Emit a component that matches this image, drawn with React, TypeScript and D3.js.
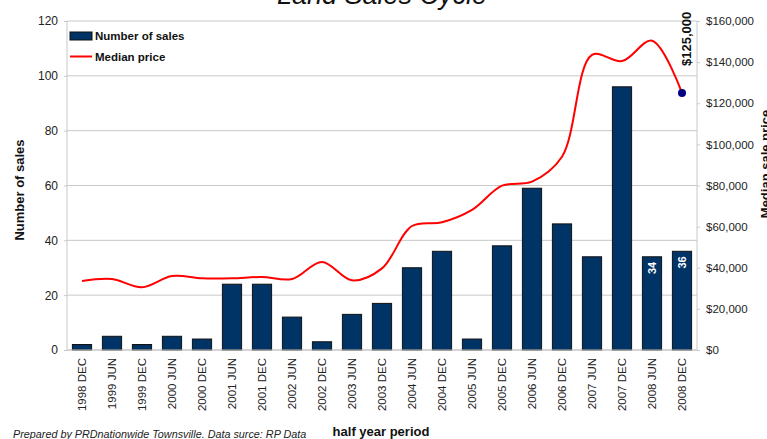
import React, { useEffect, useRef } from "react";
import * as d3 from "d3";

// half year periods on the x axis
const periods = [
  "1998 DEC", "1999 JUN", "1999 DEC", "2000 JUN", "2000 DEC", "2001 JUN", "2001 DEC",
  "2002 JUN", "2002 DEC", "2003 JUN", "2003 DEC", "2004 JUN", "2004 DEC", "2005 JUN",
  "2005 DEC", "2006 JUN", "2006 DEC", "2007 JUN", "2007 DEC", "2008 JUN", "2008 DEC",
];

// number of land sales per period
const sales = [2, 5, 2, 5, 4, 24, 24, 12, 3, 13, 17, 30, 36, 4, 38, 59, 46, 34, 96, 34, 36];

// median sale price per period
const medianPrice = [
  33600, 34500, 30500, 36000, 34900, 34900, 35500, 34500, 42800, 33900, 39700,
  60300, 62100, 68100, 79900, 81900, 94000, 143500, 140500, 150400, 125000,
];

const salesTicks = [0, 20, 40, 60, 80, 100, 120];
const priceTicks = [0, 20000, 40000, 60000, 80000, 100000, 120000, 140000, 160000];

// only the last two bars carry a value label
const labelledBars = ["2008 JUN", "2008 DEC"];

const FONT = "'Liberation Sans', Arial, sans-serif";

const App = () => {
  const ref = useRef<SVGSVGElement>(null);

  useEffect(() => {
    const width = 767;
    const height = 439;
    const plot = { left: 67, right: 697, top: 21, bottom: 350 };

    const svg = d3.select(ref.current).attr("width", width).attr("height", height);
    svg.selectAll("*").remove();

    const x = d3.scaleBand<string>()
      .domain(periods)
      .range([plot.left, plot.right])
      .paddingInner(0.36)
      .paddingOuter(0.18);
    const yLeft = d3.scaleLinear().domain([0, 120]).range([plot.bottom, plot.top]);
    const yRight = d3.scaleLinear().domain([0, 160000]).range([plot.bottom, plot.top]);

    const g = svg.append("g").style("font-family", FONT);

    // gridlines from the left axis
    g.append("g")
      .selectAll("line")
      .data(salesTicks)
      .join("line")
      .attr("x1", plot.left)
      .attr("x2", plot.right)
      .attr("y1", (d) => yLeft(d))
      .attr("y2", (d) => yLeft(d))
      .attr("stroke", "#c8c8c8")
      .attr("stroke-width", 1);

    // plot frame sides
    g.append("line")
      .attr("x1", plot.left).attr("x2", plot.left)
      .attr("y1", plot.top).attr("y2", plot.bottom)
      .attr("stroke", "#c8c8c8");
    g.append("line")
      .attr("x1", plot.right).attr("x2", plot.right)
      .attr("y1", plot.top).attr("y2", plot.bottom)
      .attr("stroke", "#c8c8c8");

    // left axis
    const leftAxis = g.append("g")
      .attr("transform", `translate(${plot.left},0)`)
      .call(d3.axisLeft(yLeft).tickValues(salesTicks).tickSize(3).tickPadding(6));
    leftAxis.select(".domain").remove();
    leftAxis.selectAll("line").attr("stroke", "#c8c8c8");
    leftAxis.selectAll("text")
      .attr("fill", "#222")
      .style("font-size", "12px")
      .style("font-family", FONT);

    // right axis
    const rightAxis = g.append("g")
      .attr("transform", `translate(${plot.right},0)`)
      .call(
        d3.axisRight(yRight)
          .tickValues(priceTicks)
          .tickSize(3)
          .tickPadding(6)
          .tickFormat((d) => "$" + d3.format(",")(d as number))
      );
    rightAxis.select(".domain").remove();
    rightAxis.selectAll("line").attr("stroke", "#c8c8c8");
    rightAxis.selectAll("text")
      .attr("fill", "#222")
      .style("font-size", "11.5px")
      .style("font-family", FONT);

    // bars
    g.append("g")
      .selectAll("rect")
      .data(periods)
      .join("rect")
      .attr("x", (d) => x(d)!)
      .attr("width", x.bandwidth())
      .attr("y", (d, i) => yLeft(sales[i]))
      .attr("height", (d, i) => yLeft(0) - yLeft(sales[i]))
      .attr("fill", "#003366")
      .attr("stroke", "#111")
      .attr("stroke-width", 1);

    // value labels inside the last bars
    periods.forEach((p, i) => {
      if (!labelledBars.includes(p)) return;
      const cx = x(p)! + x.bandwidth() / 2;
      g.append("text")
        .attr("transform", `translate(${cx + 4},${yLeft(sales[i]) + 5}) rotate(-90)`)
        .attr("text-anchor", "end")
        .attr("fill", "#fff")
        .style("font-size", "11px")
        .style("font-weight", "bold")
        .text(sales[i]);
    });

    // x axis baseline
    g.append("line")
      .attr("x1", plot.left).attr("x2", plot.right)
      .attr("y1", plot.bottom).attr("y2", plot.bottom)
      .attr("stroke", "#c8c8c8");

    // x labels
    g.append("g")
      .selectAll("text")
      .data(periods)
      .join("text")
      .attr("transform", (d) => `translate(${x(d)! + x.bandwidth() / 2 + 4},358) rotate(-90)`)
      .attr("text-anchor", "end")
      .attr("fill", "#222")
      .style("font-size", "11.5px")
      .text((d) => d);

    // median price line
    const line = d3.line<number>()
      .x((d, i) => x(periods[i])! + x.bandwidth() / 2)
      .y((d) => yRight(d))
      .curve(d3.curveCatmullRom.alpha(0.5));

    g.append("path")
      .datum(medianPrice)
      .attr("d", line)
      .attr("fill", "none")
      .attr("stroke", "#ff0000")
      .attr("stroke-width", 2);

    // last point and its label
    const last = medianPrice.length - 1;
    const lx = x(periods[last])! + x.bandwidth() / 2;
    g.append("circle")
      .attr("cx", lx)
      .attr("cy", yRight(medianPrice[last]))
      .attr("r", 4)
      .attr("fill", "#000080");
    g.append("text")
      .attr("transform", `translate(${lx + 9},${yRight(medianPrice[last]) - 27}) rotate(-90)`)
      .attr("text-anchor", "start")
      .attr("fill", "#111")
      .style("font-size", "13px")
      .style("font-weight", "bold")
      .text("$" + d3.format(",")(medianPrice[last]));

    // legend
    g.append("rect")
      .attr("x", 70).attr("y", 32)
      .attr("width", 22).attr("height", 8)
      .attr("fill", "#003366")
      .attr("stroke", "#111");
    g.append("text")
      .attr("x", 95).attr("y", 40)
      .attr("fill", "#111")
      .style("font-size", "11.5px")
      .style("font-weight", "bold")
      .text("Number of sales");
    g.append("line")
      .attr("x1", 70).attr("x2", 92)
      .attr("y1", 56.5).attr("y2", 56.5)
      .attr("stroke", "#ff0000")
      .attr("stroke-width", 2);
    g.append("text")
      .attr("x", 95).attr("y", 61)
      .attr("fill", "#111")
      .style("font-size", "11.5px")
      .style("font-weight", "bold")
      .text("Median price");

    // title (partly cut off at the top, as in the original)
    g.append("text")
      .attr("x", 382).attr("y", 4)
      .attr("text-anchor", "middle")
      .attr("fill", "#111")
      .style("font-size", "27px")
      .style("font-style", "italic")
      .text("Land Sales Cycle");

    // axis titles
    g.append("text")
      .attr("transform", "translate(24,190) rotate(-90)")
      .attr("text-anchor", "middle")
      .attr("fill", "#111")
      .style("font-size", "13px")
      .style("font-weight", "bold")
      .text("Number of sales");
    g.append("text")
      .attr("transform", "translate(770,164) rotate(-90)")
      .attr("text-anchor", "middle")
      .attr("fill", "#111")
      .style("font-size", "13px")
      .style("font-weight", "bold")
      .text("Median sale price");
    g.append("text")
      .attr("x", 381).attr("y", 436)
      .attr("text-anchor", "middle")
      .attr("fill", "#111")
      .style("font-size", "13px")
      .style("font-weight", "bold")
      .text("half year period");

    // source note
    g.append("text")
      .attr("x", 13).attr("y", 438)
      .attr("fill", "#222")
      .style("font-size", "10.8px")
      .style("font-style", "italic")
      .text("Prepared by PRDnationwide Townsville. Data surce: RP Data");
  }, []);

  return (
    <div style={{ position: "absolute", left: 0, top: 0, width: 767, height: 439, overflow: "hidden", background: "#fff" }}>
      <svg ref={ref} style={{ display: "block" }}></svg>
    </div>
  );
};

export default App;
